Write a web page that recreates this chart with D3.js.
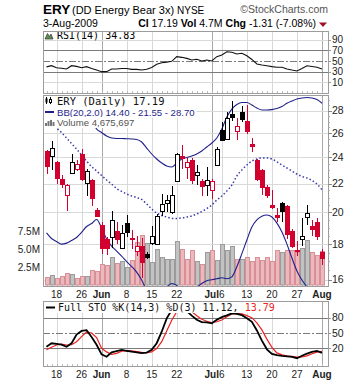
<!DOCTYPE html>
<html><head><meta charset="utf-8">
<script src="https://cdn.jsdelivr.net/npm/d3@7/dist/d3.min.js"></script>
<style>html,body{margin:0;padding:0;background:#fff}svg{display:block}</style>
</head><body>
<svg id="chart" width="360" height="384"></svg>
<script>
// ---------------- DATA ----------------
const dates = ["2009-05-14","2009-05-15","2009-05-18","2009-05-19","2009-05-20","2009-05-21","2009-05-22","2009-05-26","2009-05-27","2009-05-28","2009-05-29",
"2009-06-01","2009-06-02","2009-06-03","2009-06-04","2009-06-05","2009-06-08","2009-06-09","2009-06-10","2009-06-11","2009-06-12","2009-06-15","2009-06-16","2009-06-17","2009-06-18","2009-06-19","2009-06-22","2009-06-23","2009-06-24","2009-06-25","2009-06-26","2009-06-29","2009-06-30",
"2009-07-01","2009-07-02","2009-07-06","2009-07-07","2009-07-08","2009-07-09","2009-07-10","2009-07-13","2009-07-14","2009-07-15","2009-07-16","2009-07-17","2009-07-20","2009-07-21","2009-07-22","2009-07-23","2009-07-24","2009-07-27","2009-07-28","2009-07-29","2009-07-30","2009-07-31",
"2009-08-03"];
const openP  = [24.5,24.06,23.65,22.35,21.2,22.78,23.05,24.3,22.05,22.25,20.18,19.2,18.3,18.45,18.8,17.8,19.3,18.35,17.58,17.88,17.45,18.05,18.0,20.12,20.65,20.0,22.2,24.1,23.25,23.8,22.6,22.15,21.9,21.5,23.36,26.3,25.5,27.7,26.14,27.9,27.1,25.1,23.8,23.0,21.75,20.5,19.8,20.63,20.4,18.8,17.65,18.32,19.7,19.1,19.35,17.55];
const highP  = [24.6,25.35,23.7,22.6,22.0,24.3,23.8,24.7,23.1,22.3,20.3,19.35,18.4,20.06,19.4,19.2,19.8,18.85,18.5,18.35,17.55,19.1,19.86,21.25,21.2,21.8,24.35,25.0,23.95,23.97,23.4,22.3,23.2,22.3,24.8,27.0,27.9,28.9,27.3,28.4,28.5,25.6,23.85,23.05,21.9,21.5,20.3,20.7,20.5,18.9,18.2,19.6,20.5,19.5,19.6,17.7];
const lowP   = [22.7,23.03,22.0,21.7,20.1,22.7,22.9,22.2,21.1,20.4,19.7,17.4,17.35,17.75,18.0,17.75,18.45,17.7,17.3,16.1,17.15,17.95,17.95,19.75,20.0,19.9,22.15,23.1,22.35,21.95,21.9,21.1,21.1,20.9,23.3,25.3,25.4,27.1,25.4,27.0,25.9,24.4,22.2,21.2,20.95,20.2,19.4,19.4,18.3,17.75,17.3,17.9,19.2,18.5,18.25,16.8];
const closeP = [23.3,24.75,22.4,21.95,21.87,23.6,23.45,22.35,22.9,21.0,19.73,17.8,17.75,19.5,18.3,18.7,18.72,18.28,17.88,16.97,17.27,18.47,19.75,20.58,20.85,21.2,24.3,23.95,23.6,22.25,22.85,21.8,22.26,22.2,24.7,25.4,27.3,27.4,26.6,27.2,26.15,24.95,22.3,21.75,21.2,20.35,19.7,20.1,18.6,17.9,17.6,18.5,19.95,18.9,18.5,17.19];
const prevClose0 = 24.9;
const volumeM = [1.13,1.4,0.95,1.2,1.7,1.5,0.95,1.2,1.2,2.1,2.0,2.9,2.8,3.95,3.0,3.3,2.55,3.5,6.0,6.9,5.85,3.15,5.05,3.95,3.6,3.55,6.1,5.05,3.6,4.9,3.4,2.85,4.6,4.8,3.5,5.75,4.8,5.4,3.6,3.6,3.95,3.3,3.95,3.5,3.95,3.4,4.9,4.6,4.9,4.85,4.6,5.1,6.3,4.6,4.15,4.675697];
const bbUpper = [35.8,35.42,34.72,34.1,33.1,32.02,30.92,29.65,28.32,27.27,26.35,26.05,25.75,25.58,25.54,25.54,25.52,25.5,25.46,25.24,24.74,24.26,23.86,23.55,23.31,23.24,23.55,23.86,23.98,24.1,24.26,24.5,24.83,25.16,25.58,26.35,27.42,28.15,28.58,28.77,28.77,28.53,28.25,28.06,28.06,28.1,28.2,28.39,28.69,28.91,29.1,29.2,29.25,29.2,29.05,28.70];
const bbMid = [27.24,26.88,26.44,26.05,25.58,25.12,24.66,24.18,23.7,23.27,22.93,22.59,22.26,21.96,21.64,21.43,21.25,21.11,21.0,20.87,20.56,20.22,19.95,19.79,19.69,19.6,19.6,19.63,19.69,19.76,19.89,20.05,20.25,20.49,20.83,21.11,21.46,21.89,22.56,23.01,23.39,23.7,23.86,23.94,23.94,23.86,23.63,23.39,23.16,22.93,22.7,22.52,22.41,22.22,21.96,21.55];
const bbLower = [18.68,18.34,18.16,18.0,18.06,18.22,18.4,18.71,19.08,19.27,19.53,18.99,18.31,17.88,17.59,17.3,16.99,16.71,16.41,15.98,15.45,15.2,15.15,15.3,15.6,15.8,15.7,15.45,15.35,15.4,15.6,15.8,15.95,16.0,16.05,16.1,16.05,16.15,16.7,17.44,18.25,19.05,19.5,19.74,19.82,19.69,19.3,18.74,18.0,17.19,16.47,15.98,15.6,15.1,14.75,14.40];
const rsiV = [39,41.3,37.5,36.5,35,41.3,40,37.5,39.4,36,33,30,30,35,35,36,36,34.4,34.4,33.1,34.5,38,43.8,46.8,48,49.5,58.2,57,55,52,53.3,50.1,52,50.1,58.2,61.4,67.6,66.5,63.3,64.6,60.1,53,44.5,42.5,41.2,39.5,38.2,38.2,35,33,31.3,36,41.2,39.8,38.2,34.83];
const stoK = [23,29.8,28.5,27,23.1,29.8,47,54,55.5,42,27,8.2,3.5,12,14.5,16.7,15,13.3,12,10.5,11.5,17,30,52.5,78.8,95,99,100,93,84,76,71.5,71,69,76,81,84.5,88.6,87.5,85,78.8,72,55,35,18,9,6.5,5,4.2,3,0.5,5.5,9.5,13,14.8,11.12];
const stoD = [17,22,26.5,28,26.5,27,33,43,52,50,41,20,13,8,10,14.5,15.5,15,13.5,12,11.3,13,19.5,33,54,75,92,99,98,92,84,77,73,70.5,72,75.5,82,87.5,88.5,87.5,84,80,70,56,38,22,11,7,5.2,4.1,2.6,3,5.2,9.3,12.4,13.79];

const tickDates = ["2009-05-18","2009-05-26","2009-06-01","2009-06-08","2009-06-15","2009-06-22","2009-07-01","2009-07-06","2009-07-13","2009-07-20","2009-07-27","2009-08-03"];
const tickLabels = ["18","26","Jun","8","15","22","Jul","6","13","20","27","Aug"];
const monthTicks = ["2009-06-01","2009-07-01","2009-08-03"];
const priceTicks = [16,18,20,22,24,26,28];
const volTicks = [2.5,5.0,7.5];
const volTickLabels = ["2.5M","5.0M","7.5M"];
const rsiTicks = [90,70,50,30,10];
const stoTicks = [80,50,20];

// ---------------- SETUP ----------------
const svg = d3.select("#chart");
const SANS = "'Liberation Sans', Arial, sans-serif";
const MONO = "'DejaVu Sans Mono', monospace";
const RED = "#d2002e", NAVY = "#1f1f8c";
const L = 43, R = 328;
const P = {rsi:{t:31,b:93}, main:{t:95,b:286}, sto:{t:301,b:366}};
const x = d3.scalePoint().domain(dates).range([46.5, 322]);
const cx = d => Math.round(x(d)) + 0.5;
const snap = v => Math.round(v) + 0.5;
const y = d3.scaleLog().domain([16,28]).range([279.7,110.7]);
const yv = d3.scaleLinear().domain([0,7.5]).range([285,231]);
const yr = d3.scaleLinear().domain([0,100]).range([87.6,34.5]);
const ys = d3.scaleLinear().domain([0,100]).range([358.5,307.5]);

const defs = svg.append("defs");
Object.entries(P).forEach(([k,p]) => {
  defs.append("clipPath").attr("id","clip-"+k).append("rect")
    .attr("x",L+1).attr("y",p.t+1).attr("width",R-L-1).attr("height",p.b-p.t-1);
});

function panelBase(p){
  svg.append("rect").attr("x",L+0.5).attr("y",p.t+0.5).attr("width",R-L).attr("height",p.b-p.t)
    .attr("fill","#fff").attr("stroke","none");
  const g = svg.append("g");
  tickDates.forEach(d => {
    g.append("line").attr("x1",cx(d)).attr("x2",cx(d)).attr("y1",p.t).attr("y2",p.b)
      .attr("stroke", monthTicks.includes(d) ? "#a9a9a9" : "#d9d9d9").attr("stroke-width",1);
  });
  // day ticks at bottom
  dates.forEach(d => {
    g.append("line").attr("x1",cx(d)).attr("x2",cx(d)).attr("y1",p.b-2).attr("y2",p.b)
      .attr("stroke","#bbb");
  });
  return g;
}
function panelBorder(p){
  svg.append("rect").attr("x",L+0.5).attr("y",p.t+0.5).attr("width",R-L).attr("height",p.b-p.t)
    .attr("fill","none").attr("stroke","#9c9c9c");
}
function bgText(g, txt){
  const bb = txt.node().getBBox();
  g.insert("rect", function(){ return txt.node(); })
    .attr("x", L+1).attr("y", bb.y).attr("width", bb.x + bb.width + 2 - (L+1)).attr("height", bb.height)
    .attr("fill","#fff");
}

// ---------------- HEADER ----------------
svg.append("text").attr("x",43).attr("y",13.5).attr("font-family",SANS).attr("font-size",13.5).attr("font-weight","bold").text("ERY");
svg.append("text").attr("x",72).attr("y",13.5).attr("font-family",SANS).attr("font-size",11).text("(DD Energy Bear 3x)");
svg.append("text").attr("x",177).attr("y",13.5).attr("font-family",SANS).attr("font-size",10).text("NYSE");
svg.append("text").attr("x",328).attr("y",13).attr("text-anchor","end").attr("font-family",SANS).attr("font-size",10.5).attr("fill","#555").text("\u00A9StockCharts.com");
svg.append("text").attr("x",43).attr("y",26.5).attr("font-family",SANS).attr("font-size",10.5).text("3-Aug-2009");
const info = svg.append("text").attr("x",316).attr("y",26.5).attr("text-anchor","end").attr("font-family",SANS).attr("font-size",10.5);
info.append("tspan").attr("font-weight","bold").text("Cl");
info.append("tspan").text(" " + closeP[closeP.length-1].toFixed(2) + " ");
info.append("tspan").attr("font-weight","bold").text("Vol");
info.append("tspan").text(" 4.7M ");
info.append("tspan").attr("font-weight","bold").text("Chg");
const chg = closeP[closeP.length-1] - closeP[closeP.length-2];
info.append("tspan").text(" " + chg.toFixed(2) + " (" + (chg/closeP[closeP.length-2]*100).toFixed(2) + "%)");
svg.append("path").attr("d","M319,22.5 L327,22.5 L323,27 Z").attr("fill","#a0102a");

// ---------------- RSI PANEL ----------------
{
  const p = P.rsi;
  const g = panelBase(p);
  [10,90].forEach(v => g.append("line").attr("x1",L).attr("x2",R).attr("y1",snap(yr(v))).attr("y2",snap(yr(v))).attr("stroke","#d9d9d9"));
  [30,70].forEach(v => g.append("line").attr("x1",L).attr("x2",R).attr("y1",snap(yr(v))).attr("y2",snap(yr(v))).attr("stroke","#7a7a7a"));
  g.append("line").attr("x1",L).attr("x2",R).attr("y1",snap(yr(50))).attr("y2",snap(yr(50))).attr("stroke","#7a7a7a").attr("stroke-dasharray","7,2,2,2");
  svg.append("g").attr("clip-path","url(#clip-rsi)").append("path")
    .datum(rsiV).attr("fill","none").attr("stroke","#111").attr("stroke-width",1.1)
    .attr("d", d3.line().x((d,i)=>x(dates[i])).y(d=>yr(d)));
  const lg = svg.append("g");
  lg.append("path").attr("d","M45,39 L47.5,33.5 L49.5,36.5 L51,34 L53,39 Z").attr("fill","#5e8f52").attr("stroke","#333").attr("stroke-width",0.7);
  const t = lg.append("text").attr("x",57).attr("y",39).attr("font-family",MONO).attr("font-size",10).text("RSI(14) " + rsiV[rsiV.length-1].toFixed(2));
  panelBorder(p);
  rsiTicks.forEach(v => {
    svg.append("line").attr("x1",R).attr("x2",R+3).attr("y1",snap(yr(v))).attr("y2",snap(yr(v))).attr("stroke","#999");
    svg.append("text").attr("x",332).attr("y",yr(v)).attr("dy","0.36em").attr("font-family",SANS).attr("font-size",10).attr("fill","#222").text(v);
  });
}

// ---------------- MAIN PANEL ----------------
{
  const p = P.main;
  const g = panelBase(p);
  priceTicks.forEach(v => g.append("line").attr("x1",L).attr("x2",R).attr("y1",snap(y(v))).attr("y2",snap(y(v))).attr("stroke","#d9d9d9"));
  const c = svg.append("g").attr("clip-path","url(#clip-main)");
  // volume
  dates.forEach((d,i) => {
    const prev = i === 0 ? prevClose0 : closeP[i-1];
    const up = closeP[i] >= prev;
    const top = snap(yv(volumeM[i]));
    c.append("rect").attr("x", Math.round(x(d)) - 2 + 0.5).attr("y", top)
      .attr("width", 4).attr("height", Math.max(0, yv(0) - top))
      .attr("fill", up ? "#c2c2c2" : "#ebb8bc").attr("stroke", up ? "#9b9b9b" : "#d98f98").attr("stroke-width",1);
  });
  // Bollinger bands
  const line = arr => d3.line().x((d,i)=>x(dates[i])).y(d=>y(d)).curve(d3.curveMonotoneX)(arr);
  c.append("path").attr("d", line(bbUpper)).attr("fill","none").attr("stroke",NAVY).attr("stroke-width",1.1);
  c.append("path").attr("d", line(bbLower)).attr("fill","none").attr("stroke",NAVY).attr("stroke-width",1.1);
  c.append("path").attr("d", line(bbMid)).attr("fill","none").attr("stroke","#3a3aa8").attr("stroke-width",1.5).attr("stroke-dasharray","1.5,2.2");
  // candles
  dates.forEach((d,i) => {
    const prev = i === 0 ? prevClose0 : closeP[i-1];
    const col = closeP[i] >= prev ? "#000" : RED;
    const hollow = closeP[i] > openP[i];
    const xx = cx(d);
    c.append("line").attr("x1",xx).attr("x2",xx).attr("y1",Math.round(y(highP[i]))).attr("y2",Math.round(y(lowP[i])))
      .attr("stroke",col).attr("stroke-width",1);
    const t = snap(y(Math.max(openP[i],closeP[i])));
    const b = snap(y(Math.min(openP[i],closeP[i])));
    c.append("rect").attr("x", xx-2).attr("y", t).attr("width",4).attr("height",Math.max(1,b-t))
      .attr("fill", hollow ? "#fff" : col).attr("stroke", col).attr("stroke-width",1);
  });
  // legend
  const lg = svg.append("g");
  const t1 = lg.append("text").attr("x",57).attr("y",104.5).attr("font-family",MONO).attr("font-size",10.5).attr("fill","#111")
    .text("ERY (Daily) " + closeP[closeP.length-1].toFixed(2));
  const t2 = lg.append("text").attr("x",57).attr("y",115.5).attr("font-family",SANS).attr("font-size",9.6).attr("fill",NAVY)
    .text("BB(20,2.0) " + bbLower[bbLower.length-1].toFixed(2) + " - " + bbMid[bbMid.length-1].toFixed(2) + " - " + bbUpper[bbUpper.length-1].toFixed(2));
  const t3 = lg.append("text").attr("x",57).attr("y",126).attr("font-family",SANS).attr("font-size",9.6).attr("fill","#555")
    .text("Volume " + d3.format(",")(Math.round(volumeM[volumeM.length-1]*1e6)));
  [t1,t2,t3].forEach(t => bgText(lg, t));
  // icons
  lg.append("line").attr("x1",46.5).attr("x2",46.5).attr("y1",97).attr("y2",104).attr("stroke","#000");
  lg.append("rect").attr("x",45.5).attr("y",98.5).attr("width",2).attr("height",4).attr("fill","#000");
  lg.append("line").attr("x1",50.5).attr("x2",50.5).attr("y1",97).attr("y2",104).attr("stroke","#000");
  lg.append("rect").attr("x",49.5).attr("y",99.5).attr("width",2).attr("height",3).attr("fill","#fff").attr("stroke","#000");
  lg.append("line").attr("x1",45).attr("x2",54).attr("y1",112).attr("y2",112).attr("stroke",NAVY).attr("stroke-width",2);
  [[45,3],[47.5,5],[50,6],[52.5,4]].forEach(([bx,h]) => lg.append("rect").attr("x",bx).attr("y",126-h).attr("width",2).attr("height",h).attr("fill","#777"));
  panelBorder(p);
  // right axis
  d3.range(15.5, 29.01, 0.5).forEach(v => {
    const yy = y(v);
    if (yy > p.t && yy < p.b) svg.append("line").attr("x1",R).attr("x2",R+2).attr("y1",snap(yy)).attr("y2",snap(yy)).attr("stroke","#aaa");
  });
  priceTicks.forEach(v => {
    svg.append("line").attr("x1",R).attr("x2",R+4).attr("y1",snap(y(v))).attr("y2",snap(y(v))).attr("stroke","#888");
    svg.append("text").attr("x",332).attr("y",y(v)).attr("dy","0.36em").attr("font-family",SANS).attr("font-size",10.5).attr("fill","#222").text(v);
  });
  volTicks.forEach((v,k) => {
    svg.append("text").attr("x",40).attr("y",yv(v)).attr("dy","0.36em").attr("text-anchor","end").attr("font-family",SANS).attr("font-size",10).attr("fill","#222").text(volTickLabels[k]);
  });
  tickDates.forEach((d,k) => {
    svg.append("text").attr("x",x(d)).attr("y",297.5).attr("text-anchor","middle").attr("font-family",SANS).attr("font-size",10)
      .attr("font-weight", monthTicks.includes(d) ? "bold" : "normal").attr("fill","#222").text(tickLabels[k]);
  });
}

// ---------------- STO PANEL ----------------
{
  const p = P.sto;
  const g = panelBase(p);
  [20,80].forEach(v => g.append("line").attr("x1",L).attr("x2",R).attr("y1",snap(ys(v))).attr("y2",snap(ys(v))).attr("stroke","#7a7a7a"));
  g.append("line").attr("x1",L).attr("x2",R).attr("y1",snap(ys(50))).attr("y2",snap(ys(50))).attr("stroke","#7a7a7a").attr("stroke-dasharray","7,2,2,2");
  const c = svg.append("g").attr("clip-path","url(#clip-sto)");
  const ln = d3.line().x((d,i)=>x(dates[i])).y(d=>ys(d));
  c.append("path").datum(stoD).attr("d",ln).attr("fill","none").attr("stroke","#ee2020").attr("stroke-width",1.2);
  c.append("path").datum(stoK).attr("d",ln).attr("fill","none").attr("stroke","#000").attr("stroke-width",1.8);
  const lg = svg.append("g");
  const t = lg.append("text").attr("x",58).attr("y",311).attr("font-family",MONO).attr("font-size",10).attr("fill","#111");
  t.append("tspan").text("Full STO %K(14,3) %D(3) " + stoK[stoK.length-1].toFixed(2) + ", ");
  t.append("tspan").attr("fill","#ee2020").text(stoD[stoD.length-1].toFixed(2));
  bgText(lg, t);
  lg.append("line").attr("x1",46).attr("x2",55).attr("y1",307.5).attr("y2",307.5).attr("stroke","#000").attr("stroke-width",2);
  panelBorder(p);
  stoTicks.forEach(v => {
    svg.append("line").attr("x1",R).attr("x2",R+3).attr("y1",snap(ys(v))).attr("y2",snap(ys(v))).attr("stroke","#999");
    svg.append("text").attr("x",332).attr("y",ys(v)).attr("dy","0.36em").attr("font-family",SANS).attr("font-size",10.5).attr("fill","#222").text(v);
  });
  tickDates.forEach((d,k) => {
    svg.append("text").attr("x",x(d)).attr("y",378).attr("text-anchor","middle").attr("font-family",SANS).attr("font-size",10)
      .attr("font-weight", monthTicks.includes(d) ? "bold" : "normal").attr("fill","#222").text(tickLabels[k]);
  });
}
</script>
</body></html>
